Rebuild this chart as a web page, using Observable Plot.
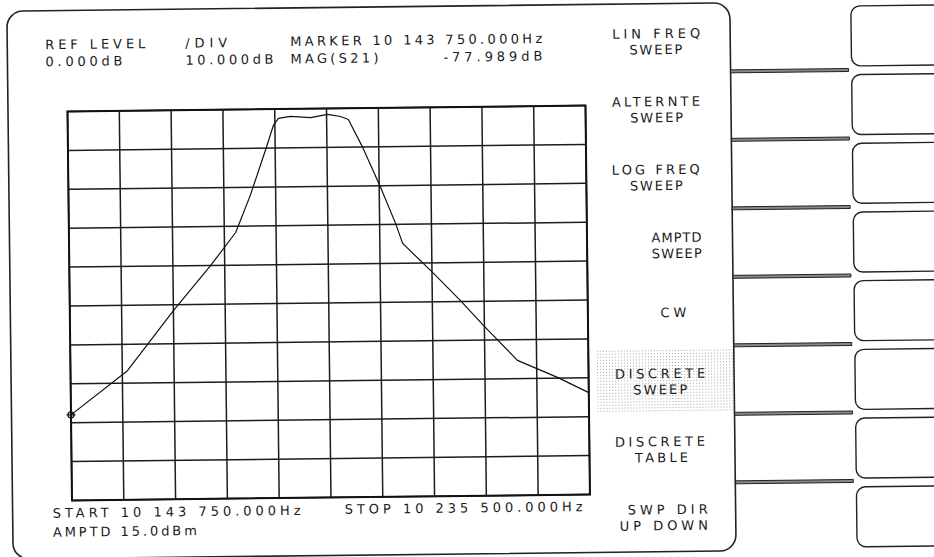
<!DOCTYPE html>
<html><head><meta charset="utf-8">
<script src="https://cdn.jsdelivr.net/npm/d3@7"></script>
<script src="https://cdn.jsdelivr.net/npm/@observablehq/plot@0.6"></script>
<style>
html,body{margin:0;padding:0;background:#fff;}
#page{position:relative;width:934px;height:557px;overflow:hidden;background:#fff;}
#rot{position:absolute;left:0;top:0;width:934px;height:557px;transform:rotate(-0.66deg);transform-origin:67px 111px;}
#rot svg{position:absolute;left:0;top:0;}
</style></head><body>
<div id="page"><div id="rot"></div></div>
<script>
// ---- data read from the plotter output ----
const startHz = 10143750;
const stopHz = 10235500;
const refLevelDb = 0;
const divDb = 10;
const freqHz = [10143750, 10153840, 10162100, 10168800, 10173290, 10175950, 10178710, 10180180,
  10181090, 10183200, 10186780, 10189810, 10192100, 10193480, 10195960, 10198890,
  10201640, 10202840, 10208250, 10212930, 10216970, 10222930, 10229990, 10235500];
const magDb = [-78.0, -66.8, -51.5, -40.0, -31.6, -22.1, -10.6, -4.2,
  -2.4, -1.9, -2.3, -1.5, -2.1, -2.9, -10.1, -19.9,
  -29.8, -34.9, -42.7, -49.7, -56.2, -65.3, -69.8, -73.8];
const headerLabels = ["REF LEVEL", "0.000dB", "/DIV", "10.000dB", "MARKER 10 143 750.000Hz", "MAG(S21)", "-77.989dB"];
const footerLabels = ["START 10 143 750.000Hz", "AMPTD 15.0dBm", "STOP 10 235 500.000Hz"];
const softkeyLabels = [["LIN FREQ", "SWEEP"], ["ALTERNTE", "SWEEP"], ["LOG FREQ", "SWEEP"], ["AMPTD", "SWEEP"],
  ["CW"], ["DISCRETE", "SWEEP"], ["DISCRETE", "TABLE"], ["SWP DIR", "UP DOWN"]];

// ---- chart ----
const trace = freqHz.map((f, i) => ({f, db: magDb[i]}));
const nDiv = 10;
const xGrid = d3.range(nDiv + 1).map(i => startHz + i * (stopHz - startHz) / nDiv);
const yGrid = d3.range(nDiv + 1).map(i => refLevelDb - i * divDb);

const chart = Plot.plot({
  width: 934, height: 557,
  marginLeft: 67, marginRight: 349, marginTop: 111, marginBottom: 57,
  x: {domain: [startHz, stopHz], axis: null},
  y: {domain: [refLevelDb - nDiv * divDb, refLevelDb], axis: null},
  style: {background: "transparent"},
  marks: [
    Plot.ruleX(xGrid, {stroke: "#1c1c1c", strokeWidth: 1.5}),
    Plot.ruleY(yGrid, {stroke: "#1c1c1c", strokeWidth: 1.5}),
    Plot.frame({stroke: "#111", strokeWidth: 2}),
    Plot.line(trace, {x: "f", y: "db", stroke: "#111", strokeWidth: 1.2}),
    Plot.dot([trace[0]], {x: "f", y: "db", r: 3, stroke: "#111", strokeWidth: 1.2}),
    Plot.dot([trace[0]], {x: "f", y: "db", symbol: "plus", r: 3, stroke: "#111", strokeWidth: 1.2})
  ]
});
document.getElementById("rot").appendChild(chart);

// ---- instrument screen chrome (layout) ----
const svg = d3.select("#rot").append("svg").attr("width", 934).attr("height", 557).style("overflow", "visible");
const defs = svg.append("defs");
const pat = defs.append("pattern").attr("id", "stip").attr("width", 3).attr("height", 3).attr("patternUnits", "userSpaceOnUse");
pat.append("rect").attr("x", 0).attr("y", 0).attr("width", 1).attr("height", 1).attr("fill", "#a8a8a8");

// panel border
svg.append("rect").attr("x", 8).attr("y", 10.5).attr("width", 723).attr("height", 548).attr("rx", 16)
  .attr("fill", "none").attr("stroke", "#222").attr("stroke-width", 1.6);
// active softkey highlight
svg.append("rect").attr("x", 594).attr("y", 356).attr("width", 137).attr("height", 63).attr("fill", "url(#stip)");
// connectors and boxes
for (let i = 0; i < 7; i++) {
  svg.append("rect").attr("x", 731).attr("y", 77.5 + i * 68.5).attr("width", 118).attr("height", 3)
    .attr("fill", "#888").attr("stroke", "#111").attr("stroke-width", 0.9);
}
for (let i = 0; i < 8; i++) {
  svg.append("rect").attr("x", 852).attr("y", 15 + i * 68.7).attr("width", 130).attr("height", 60).attr("rx", 9)
    .attr("fill", "none").attr("stroke", "#222").attr("stroke-width", 1.4);
}

function label(t, x, y, w) {
  svg.append("text").attr("x", x).attr("y", y).attr("textLength", w).attr("lengthAdjust", "spacing")
    .attr("font-family", "'DejaVu Sans', sans-serif").attr("font-size", 13)
    .attr("fill", "#1a1a1a").text(t);
}
const headerPos = [[46, 49, 100], [46, 66, 77], [186, 49, 42], [186, 66, 88], [291, 48.5, 252], [291, 66, 88], [444, 66, 99]];
headerLabels.forEach((t, i) => label(t, ...headerPos[i]));
const footerPos = [[48, 517.5, 248], [48, 536.5, 144], [340, 517, 238]];
footerLabels.forEach((t, i) => label(t, ...footerPos[i]));
const keyPos = [
  [[613, 88], [630, 53]], [[612, 88], [630, 53]], [[611, 88], [629, 53]], [[650, 50], [650, 50]],
  [[658, 26]], [[612, 90], [630, 54]], [[611, 90], [631, 53]], [[623, 80], [615, 88]]
];
softkeyLabels.forEach((lines, k) => {
  const y0 = 45 + k * 68;
  lines.forEach((t, j) => {
    const [x, w] = keyPos[k][j];
    const y = lines.length === 1 ? y0 + 7 : y0 + j * 16;
    label(t, x, y, w);
  });
});
</script>
</body></html>
